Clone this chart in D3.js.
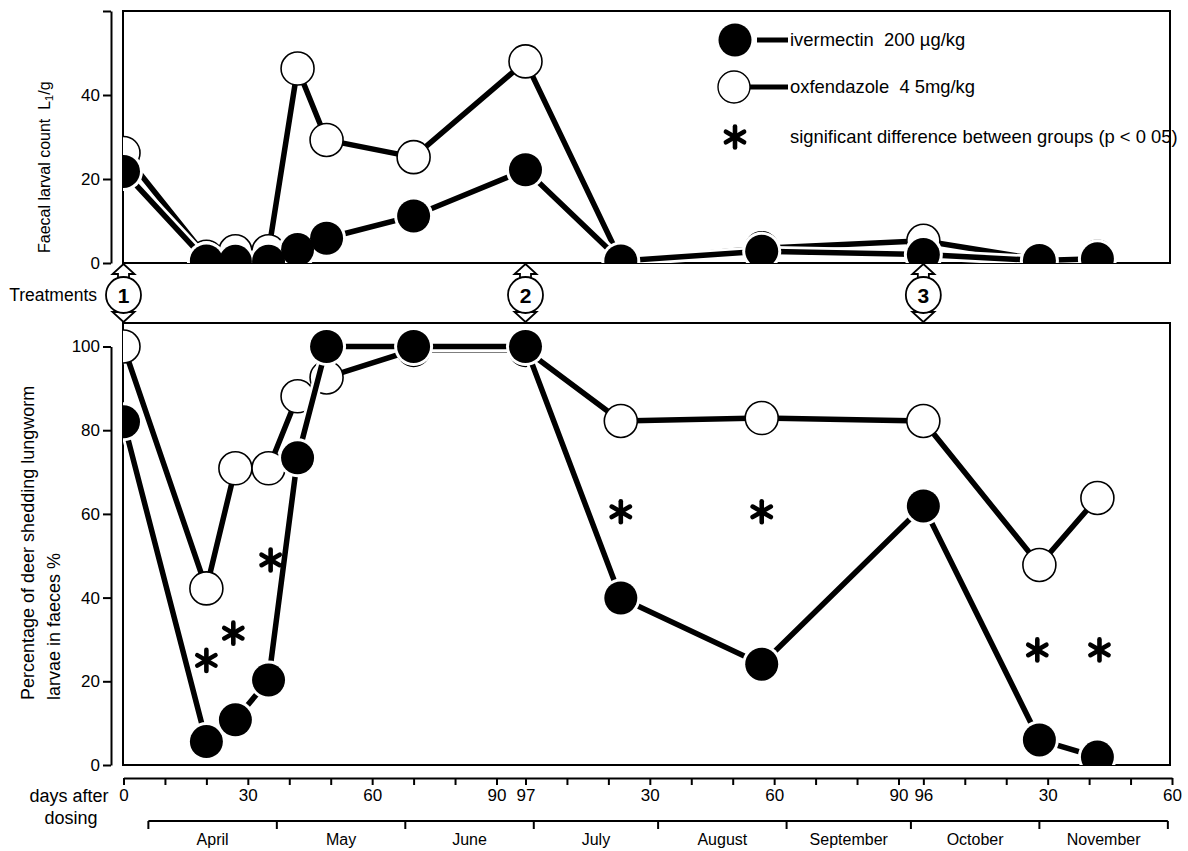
<!DOCTYPE html>
<html>
<head>
<meta charset="utf-8">
<script src="https://cdn.jsdelivr.net/npm/d3@7"></script>
<style>
  body { margin: 0; background: #fff; }
  text { font-family: "Liberation Sans", Arial, sans-serif; fill: #000; white-space: pre; }
</style>
</head>
<body>
<div id="chart"></div>
<script>

// days after first dosing (continuous count across the 3 treatment periods)
var days = [0, 20, 27, 35, 42, 49, 70, 97, 120, 154, 193, 221, 235];

// faecal larval count L1/g
var countIver = [21.8, 0.5, 0.4, 0.4, 3.2, 5.9, 11.2, 22.2, 0.5, 2.8, 2.0, 0.6, 1.0];
var countOxf  = [26.2, 1.5, 2.8, 2.8, 46.3, 29.3, 25.2, 48.0, 0.6, 3.5, 5.3, 0.8, 1.5];

// percentage of deer shedding larvae
var pctIver = [82, 5.6, 10.8, 20.3, 73.4, 100, 100, 100, 39.9, 24.1, 61.9, 6.0, 1.9];
var pctOxf  = [100, 42.2, 70.9, 70.9, 88.1, 92.6, 99.2, 99.2, 82.2, 82.9, 82.2, 47.8, 63.8];

// significant differences (asterisks)
var sigDays = [20, 26.5, 35.5, 120, 154, 220.5, 235.5];
var sigPct  = [25, 31.5, 49, 60.5, 60.5, 27.5, 27.5];

// treatments
var treatDays = [0, 97, 193];
var treatLabels = ["1", "2", "3"];

// x axis segments (days after each dosing)
var segStarts = [0, 97, 193];
var segLengths = [97, 96, 60];
var segLabels = [[0, 30, 60, 90, 97], [30, 60, 90, 96], [30, 60]];

// months
var months = ["April", "May", "June", "July", "August", "September", "October", "November"];
var monthBounds = [6, 37, 68, 99, 129, 160, 190, 221, 252];

var legendLabels = ["ivermectin  200 \u00b5g/kg", "oxfendazole  4 5mg/kg",
                    "significant difference between groups (p < 0 05)"];

// setup
var W = 1188, H = 851;
var svg = d3.select("#chart").append("svg")
  .attr("width", W)
  .attr("height", H);

var boxL = 123, boxR = 1170;
var topT = 11, topB = 263;
var botT = 323, botB = 765;

var x = d3.scaleLinear().domain([0, 253]).range([123.5, 1172]);
var yTop = d3.scaleLinear().domain([0, 60]).range([topB, topT]);
var yBot = d3.scaleLinear().domain([0, 100]).range([botB, 346.5]);

// clip paths
var defs = svg.append("defs");
defs.append("clipPath").attr("id", "clipTop").append("rect")
  .attr("x", boxL).attr("y", topT).attr("width", boxR - boxL).attr("height", topB - topT);
defs.append("clipPath").attr("id", "clipBot").append("rect")
  .attr("x", boxL).attr("y", botT).attr("width", boxR - boxL).attr("height", botB - botT);

// panel boxes
[[topT, topB], [botT, botB]].forEach(function(p) {
  svg.append("rect")
    .attr("x", boxL).attr("y", p[0])
    .attr("width", boxR - boxL).attr("height", p[1] - p[0])
    .attr("fill", "none").attr("stroke", "#000").attr("stroke-width", 2);
});

function styleAxis(g, size) {
  g.selectAll("path, line").attr("stroke", "#000").attr("stroke-width", 2);
  g.selectAll("text").attr("font-size", size).attr("font-family", "Liberation Sans, Arial, sans-serif");
}

// y axes
var axTop = svg.append("g")
  .attr("transform", "translate(111,0)")
  .call(d3.axisLeft(yTop).tickValues([0, 20, 40, 60]).tickSize(8).tickSizeOuter(0)
    .tickFormat(function(d) { return d == 60 ? "" : d; }));
styleAxis(axTop, 17);

var axBot = svg.append("g")
  .attr("transform", "translate(111,0)")
  .call(d3.axisLeft(yBot).tickValues([0, 20, 40, 60, 80, 100]).tickSize(8).tickSizeOuter(0));
styleAxis(axBot, 17);

// y axis titles
var tTop = svg.append("text")
  .attr("transform", "translate(50,253) rotate(-90)")
  .style("font-size", "16px");
tTop.append("tspan").text("Faecal larval count  L");
tTop.append("tspan").attr("dy", 3).style("font-size", "11px").text("1");
tTop.append("tspan").attr("dy", -3).text("/g");
svg.append("text")
  .attr("transform", "translate(34,700) rotate(-90)")
  .style("font-size", "18px")
  .text("Percentage of deer shedding lungworm");
svg.append("text")
  .attr("transform", "translate(60,700) rotate(-90)")
  .style("font-size", "18px")
  .text("larvae in faeces %");

// x axis: days after dosing
var xTicks = [], xLabel = {};
segStarts.forEach(function(s, i) {
  for (var d = (i == 0 ? 0 : 10); d < segLengths[i]; d += 10) xTicks.push(s + d);
  xTicks.push(s + segLengths[i]);
  segLabels[i].forEach(function(l) { xLabel[s + l] = l; });
});

var axX = svg.append("g")
  .attr("transform", "translate(0,778)")
  .call(d3.axisBottom(x).tickValues(xTicks).tickSize(7).tickSizeOuter(0).tickPadding(4)
    .tickFormat(function(d) { return xLabel[d] === undefined ? "" : xLabel[d]; }));
styleAxis(axX, 17);

svg.append("text").attr("x", 69).attr("y", 802).attr("text-anchor", "middle")
  .attr("font-size", 18).text("days after");
svg.append("text").attr("x", 71).attr("y", 824).attr("text-anchor", "middle")
  .attr("font-size", 18).text("dosing");

// month axis
var mAxis = svg.append("g");
mAxis.append("line")
  .attr("x1", x(monthBounds[0])).attr("x2", x(monthBounds[monthBounds.length - 1]))
  .attr("y1", 821).attr("y2", 821)
  .attr("stroke", "#000").attr("stroke-width", 2);
mAxis.selectAll("line.mtick")
  .data(monthBounds).enter().append("line")
  .attr("class", "mtick")
  .attr("x1", function(d) { return x(d); }).attr("x2", function(d) { return x(d); })
  .attr("y1", 821).attr("y2", 829)
  .attr("stroke", "#000").attr("stroke-width", 2);
mAxis.selectAll("text")
  .data(months).enter().append("text")
  .attr("x", function(d, i) { return (x(monthBounds[i]) + x(monthBounds[i + 1])) / 2; })
  .attr("y", 845)
  .attr("text-anchor", "middle")
  .attr("font-size", 16)
  .text(function(d) { return d; });

// series drawing
function drawSeries(g, vals, y, filled) {
  var pts = days.map(function(d, i) { return [x(d), y(vals[i])]; });
  var line = d3.line();
  g.append("path").attr("d", line(pts))
    .attr("fill", "none").attr("stroke", "#fff").attr("stroke-width", 11);
  g.append("path").attr("d", line(pts))
    .attr("fill", "none").attr("stroke", "#000").attr("stroke-width", 5.5);
  if (filled) {
    g.selectAll(null).data(pts).enter().append("circle")
      .attr("cx", function(d) { return d[0]; }).attr("cy", function(d) { return d[1]; })
      .attr("r", 19.5).attr("fill", "#fff");
    g.selectAll(null).data(pts).enter().append("circle")
      .attr("cx", function(d) { return d[0]; }).attr("cy", function(d) { return d[1]; })
      .attr("r", 16.5).attr("fill", "#000");
  } else {
    g.selectAll(null).data(pts).enter().append("circle")
      .attr("cx", function(d) { return d[0]; }).attr("cy", function(d) { return d[1]; })
      .attr("r", 16.5).attr("fill", "#fff").attr("stroke", "#000").attr("stroke-width", 1.6);
  }
}

var gTop = svg.append("g").attr("clip-path", "url(#clipTop)");
drawSeries(gTop, countOxf, yTop, false);
drawSeries(gTop, countIver, yTop, true);

var gBot = svg.append("g").attr("clip-path", "url(#clipBot)");
drawSeries(gBot, pctOxf, yBot, false);
drawSeries(gBot, pctIver, yBot, true);

// asterisk
function asterisk(g, cx, cy, r) {
  var a = g.append("g").attr("transform", "translate(" + cx + "," + cy + ")");
  [90, 30, -30].forEach(function(deg) {
    var t = deg * Math.PI / 180;
    a.append("line")
      .attr("x1", -r * Math.cos(t)).attr("y1", -r * Math.sin(t))
      .attr("x2", r * Math.cos(t)).attr("y2", r * Math.sin(t))
      .attr("stroke", "#000").attr("stroke-width", 4.6).attr("stroke-linecap", "round");
  });
}
sigDays.forEach(function(d, i) { asterisk(svg, x(d), yBot(sigPct[i]), 10.5); });

// treatment markers
var tY = 295;
treatDays.forEach(function(d, i) {
  var cx = x(d);
  var up = "M" + cx + "," + (topB + 1) + " l11,10 h-5.5 v10 h-11 v-10 h-5.5 z";
  var dn = "M" + cx + "," + (botT - 1) + " l11,-10 h-5.5 v-10 h-11 v10 h-5.5 z";
  [up, dn].forEach(function(p) {
    svg.append("path").attr("d", p)
      .attr("fill", "#fff").attr("stroke", "#000").attr("stroke-width", 1.8)
      .attr("stroke-linejoin", "miter");
  });
  svg.append("ellipse")
    .attr("cx", cx).attr("cy", tY).attr("rx", 17.5).attr("ry", 18)
    .attr("fill", "#fff").attr("stroke", "#000").attr("stroke-width", 1.8);
  svg.append("text")
    .attr("x", cx).attr("y", tY + 7.5)
    .attr("text-anchor", "middle")
    .attr("font-size", 21).attr("font-weight", "bold")
    .text(treatLabels[i]);
});
svg.append("text").attr("x", 97).attr("y", 301).attr("text-anchor", "end")
  .attr("font-size", 17.5).text("Treatments");

// legend
var leg = svg.append("g");
var legY = [40, 87, 137];
leg.append("circle").attr("cx", 735).attr("cy", legY[0]).attr("r", 16.5).attr("fill", "#000");
leg.append("line").attr("x1", 757).attr("x2", 788).attr("y1", legY[0]).attr("y2", legY[0])
  .attr("stroke", "#000").attr("stroke-width", 5);
leg.append("circle").attr("cx", 734).attr("cy", legY[1]).attr("r", 16)
  .attr("fill", "#fff").attr("stroke", "#000").attr("stroke-width", 1.4);
leg.append("line").attr("x1", 750).attr("x2", 788).attr("y1", legY[1]).attr("y2", legY[1])
  .attr("stroke", "#000").attr("stroke-width", 5);
asterisk(leg, 735, legY[2], 10.5);
leg.selectAll("text").data(legendLabels).enter().append("text")
  .attr("x", 790)
  .attr("y", function(d, i) { return legY[i]; })
  .attr("dy", "0.35em")
  .attr("font-size", 18.4)
  .text(function(d) { return d; });

</script>
</body>
</html>
